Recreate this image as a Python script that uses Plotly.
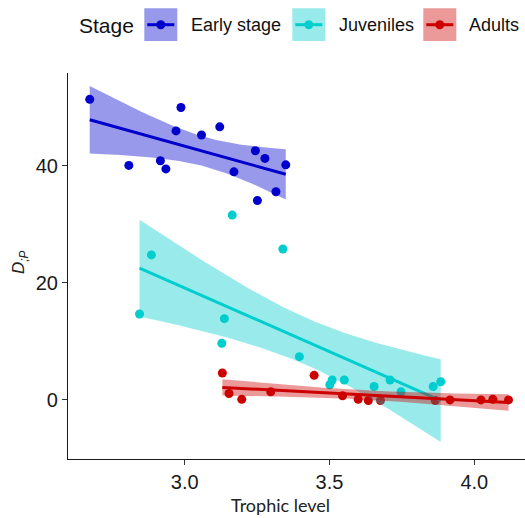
import numpy as np
import plotly.graph_objects as go

# ---------------- data ----------------
stages = ["Early stage", "Juveniles", "Adults"]

early_x = [2.672, 2.807, 2.916, 2.935, 2.970, 2.987, 3.058, 3.121, 3.170, 3.244, 3.251, 3.277, 3.315, 3.349]
early_y = [51.4, 40.1, 40.9, 39.5, 46.0, 50.0, 45.3, 46.7, 39.0, 42.6, 34.1, 41.3, 35.6, 40.2]

juv_x = [2.844, 2.885, 3.128, 3.137, 3.164, 3.339, 3.396, 3.501, 3.509, 3.551, 3.654, 3.709, 3.747, 3.858, 3.884]
juv_y = [14.7, 24.8, 9.7, 13.9, 31.6, 25.8, 7.4, 2.6, 3.4, 3.4, 2.3, 3.4, 1.4, 2.3, 3.1]

adult_x = [3.130, 3.153, 3.197, 3.297, 3.447, 3.545, 3.599, 3.634, 3.676, 3.865, 3.916, 4.023, 4.064, 4.118]
adult_y = [4.6, 1.1, 0.1, 1.4, 4.2, 0.7, 0.1, -0.1, -0.1, -0.1, 0.0, 0.0, 0.1, 0.0]

x_ticks = [3.0, 3.5, 4.0]
y_ticks = [0, 20, 40]

# ---------------- styles ----------------
colors = {"Early stage": "#0000CD", "Juveniles": "#00CDCD", "Adults": "#CD0000"}
fills = {"Early stage": "rgba(0,0,205,0.4)", "Juveniles": "rgba(0,205,205,0.4)",
         "Adults": "rgba(205,0,0,0.4)"}
series = {"Early stage": (early_x, early_y), "Juveniles": (juv_x, juv_y), "Adults": (adult_x, adult_y)}

T95 = {10: 2.2281, 11: 2.2010, 12: 2.1788, 13: 2.1604, 14: 2.1448, 15: 2.1314, 16: 2.1199}


def lm_fit(x, y):
    x = np.asarray(x, float)
    y = np.asarray(y, float)
    n = len(x)
    b1, b0 = np.polyfit(x, y, 1)
    xs = np.linspace(x.min(), x.max(), 80)
    yhat = b0 + b1 * xs
    resid = y - (b0 + b1 * x)
    s = np.sqrt(np.sum(resid ** 2) / (n - 2))
    sxx = np.sum((x - x.mean()) ** 2)
    se = s * np.sqrt(1.0 / n + (xs - x.mean()) ** 2 / sxx)
    t = T95[n - 2]
    return xs, yhat, yhat - t * se, yhat + t * se


W, H = 525, 518
ML, MR, MT, MB = 68, 0, 73, 59

fig = go.Figure()

# points first
for st in stages:
    x, y = series[st]
    fig.add_trace(go.Scatter(x=x, y=y, mode="markers",
                             marker=dict(color=colors[st], size=9, line=dict(width=0)),
                             showlegend=False, hoverinfo="skip"))

# smooth: ribbon then line per group
for st in stages:
    x, y = series[st]
    xs, yh, lo, hi = lm_fit(x, y)
    fig.add_trace(go.Scatter(x=np.concatenate([xs, xs[::-1]]),
                             y=np.concatenate([hi, lo[::-1]]),
                             mode="lines", fill="toself", fillcolor=fills[st],
                             line=dict(width=0), showlegend=False, hoverinfo="skip"))
    fig.add_trace(go.Scatter(x=xs, y=yh, mode="lines",
                             line=dict(color=colors[st], width=3),
                             showlegend=False, hoverinfo="skip"))

axis_common = dict(showgrid=False, zeroline=False, showline=True, linecolor="#1a1a1a",
                   linewidth=1.1, ticks="outside", ticklen=5, tickwidth=1.1,
                   tickcolor="#333333",
                   tickfont=dict(family="Liberation Sans, Arial", size=20, color="#1a1a1a"))

fig.update_layout(
    width=W, height=H,
    margin=dict(l=ML, r=MR, t=MT, b=MB),
    paper_bgcolor="white", plot_bgcolor="white",
    xaxis=dict(range=[2.597, 4.175], tickvals=x_ticks,
               ticktext=[f"{v:.1f}" for v in x_ticks], **axis_common),
    yaxis=dict(range=[-10.1, 55.9], tickvals=y_ticks,
               ticktext=[str(v) for v in y_ticks], **axis_common),
    showlegend=False,
)


def px_x(p):
    return (p - ML) / (W - ML - MR)


def px_y(p):
    return (H - MB - p) / (H - MT - MB)


shapes = []
annotations = []

# axis titles
annotations.append(dict(x=px_x(280), y=px_y(505), xref="paper", yref="paper",
                        text="Trophic level", showarrow=False,
                        font=dict(family="Lato", size=18, color="#222222"),
                        xanchor="center", yanchor="middle"))
annotations.append(dict(x=px_x(20), y=px_y(262), xref="paper", yref="paper",
                        text="<i>D</i><sub><i>;P</i></sub>", showarrow=False, textangle=-90,
                        font=dict(family="Liberation Sans, Arial", size=17, color="#222222"),
                        xanchor="center", yanchor="middle"))

# legend (drawn manually)
annotations.append(dict(x=px_x(77), y=px_y(25), xref="paper", yref="paper",
                        text="Stage", showarrow=False,
                        font=dict(family="Liberation Sans, Arial", size=21, color="#111111"),
                        xanchor="left", yanchor="middle"))
leg_boxes = {"Early stage": (144.3, 189), "Juveniles": (292.3, 336.7), "Adults": (423.3, 467.3)}
for st in stages:
    bx, tx = leg_boxes[st]
    shapes.append(dict(type="rect", xref="paper", yref="paper",
                       x0=px_x(bx), x1=px_x(bx + 33), y0=px_y(41), y1=px_y(8.3),
                       fillcolor=fills[st], line=dict(width=0), layer="above"))
    shapes.append(dict(type="line", xref="paper", yref="paper",
                       x0=px_x(bx + 3), x1=px_x(bx + 30), y0=px_y(24.7), y1=px_y(24.7),
                       line=dict(color=colors[st], width=3), layer="above"))
    cx = bx + 16.5
    shapes.append(dict(type="circle", xref="paper", yref="paper",
                       x0=px_x(cx - 4.5), x1=px_x(cx + 4.5), y0=px_y(29.2), y1=px_y(20.2),
                       fillcolor=colors[st], line=dict(width=0), layer="above"))
    annotations.append(dict(x=px_x(tx), y=px_y(25), xref="paper", yref="paper",
                            text=st, showarrow=False,
                            font=dict(family="Liberation Sans, Arial", size=18, color="#111111"),
                            xanchor="left", yanchor="middle"))

fig.update_layout(shapes=shapes, annotations=annotations)

fig.write_html("out.html", config={"displayModeBar": False},
               post_script="document.body.style.margin='0px';document.body.style.overflow='hidden';")
